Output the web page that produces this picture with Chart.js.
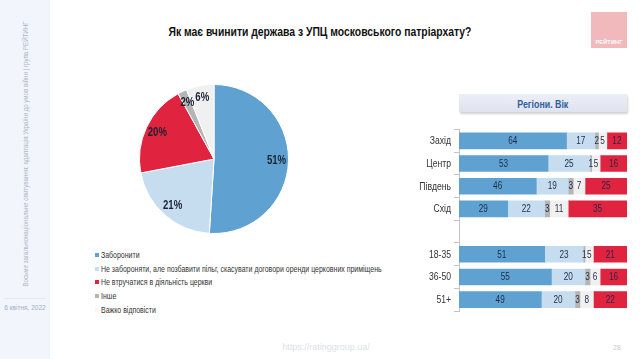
<!DOCTYPE html>
<html>
<head>
<meta charset="utf-8">
<script src="https://cdn.jsdelivr.net/npm/chart.js@4/dist/chart.umd.min.js"></script>
<style>
  html, body { margin:0; padding:0; background:#fff; width:640px; height:359px; overflow:hidden; }
  body { position:relative; font-family:"Liberation Sans",Arial,sans-serif; }
  .abs { position:absolute; }
  .fit { display:inline-block; white-space:nowrap; }
  #sidebar { left:0; top:0; width:50px; height:359px; background:#f2f5fb; }
  #sideWrap { left:25px; top:154px; width:0; height:0; }
  #sideText { position:absolute; left:0; top:0; transform-origin:0 0; font-size:7px; color:#aab5c9; }
  #sideDate { left:0; width:50px; top:304px; text-align:center; font-size:6.5px; color:#9fb0c8; }
  #sideSep { left:4px; width:42px; top:298px; height:1px; background:#e3e8f2; }
  #titleWrap { left:0; width:640px; top:22px; text-align:center; }
  #title { font-weight:bold; font-size:13px; color:#111; transform-origin:50% 50%; }
  #logo { left:591px; top:12px; width:36px; height:36px; background:#f1b9bc; }
  #logoText { left:591px; width:36px; top:39px; text-align:center; font-size:5.5px; font-weight:bold; color:#fff; letter-spacing:0.2px; }
  #pieBox { left:139px; top:84px; width:150px; height:150px; }
  #legend { left:95px; top:249px; font-size:8.5px; color:#333; }
  #legend div { height:13.7px; line-height:13.7px; white-space:nowrap; }
  #legend span.sw { display:inline-block; width:4px; height:4px; margin-right:2px; vertical-align:1px; }
  #legend span.tx { display:inline-block; transform-origin:0 50%; }
  #panel { left:459px; top:94px; width:168px; height:18px; background:linear-gradient(#eceef7,#dfe3ef); box-shadow:1px 2px 2px rgba(0,0,0,0.18); text-align:center; line-height:18px; }
  #panelText { font-weight:bold; font-size:11px; color:#2f5e9d; transform-origin:50% 50%; }
  #barBox { left:400px; top:120px; width:235px; height:200px; }
  #footer { left:0; width:652px; top:342px; text-align:center; font-size:9px; color:#dcdfe9; }
  #page { left:613px; top:344px; font-size:7px; color:#c8ccd6; }
</style>
</head>
<body>
<div id="sidebar" class="abs"></div>
<div id="sideWrap" class="abs"><span id="sideText" class="fit">Восьме загальнонаціональне опитування: адаптація України до умов війни | група РЕЙТИНГ</span></div>
<div id="sideSep" class="abs"></div>
<div id="sideDate" class="abs">6 квітня, 2022</div>
<div id="titleWrap" class="abs"><span id="title" class="fit">Як має вчинити держава з УПЦ московського патріархату?</span></div>
<div id="logo" class="abs"></div>
<div id="logoText" class="abs">РЕЙТИНГ</div>
<div id="pieBox" class="abs"><canvas id="pie"></canvas></div>
<div id="legend" class="abs"></div>
<div id="panel" class="abs"><span id="panelText" class="fit">Регіони. Вік</span></div>
<div id="barBox" class="abs"><canvas id="bar"></canvas></div>
<div id="footer" class="abs">https://ratinggroup.ua/</div>
<div id="page" class="abs">28</div>
<script>
// ---- data ----
const pieLabels = [
  "Заборонити",
  "Не забороняти, але позбавити пільг, скасувати договори оренди церковних приміщень",
  "Не втручатися в діяльність церкви",
  "Інше",
  "Важко відповісти"
];
const pieValues = [51, 21, 20, 2, 6];

const barCategories = ["Захід", "Центр", "Південь", "Схід", "", "18-35", "36-50", "51+"];
const banValues         = [64, 53, 46, 29, null, 51, 55, 49];
const restrictValues    = [17, 25, 19, 22, null, 23, 20, 20];
const otherValues       = [2, 1, 3, 3, null, 1, 3, 3];
const hardValues        = [5, 5, 7, 11, null, 5, 6, 8];
const noInterfereValues = [12, 16, 25, 35, null, 21, 16, 22];

const colors = ["#5fa2d1", "#c6ddf0", "#e0233f", "#b5b5b5", "#f0f0f0"];
const legendSwatch = ["#5fa2d1", "#c6ddf0", "#e0233f", "#b5b5b5", "#f7f7f7"];

const FONT = '"Liberation Sans",Arial,sans-serif';
const NARROW = 0.82;

// condense html text
function condense(el, scale) { el.style.transform = 'scaleX(' + scale + ')'; }
function fitTo(el, target) { const w = el.getBoundingClientRect().width; el.style.transform = 'scaleX(' + (target / w) + ')'; }

// legend
const lg = document.getElementById('legend');
pieLabels.forEach((l, i) => {
  const d = document.createElement('div');
  d.innerHTML = '<span class="sw" style="background:' + legendSwatch[i] + '"></span><span class="tx">' + l + '</span>';
  lg.appendChild(d);
});
lg.querySelectorAll('span.tx').forEach(s => condense(s, NARROW));
fitTo(document.getElementById('title'), 303);
fitTo(document.getElementById('panelText'), 51);
(function () {
  const s = document.getElementById('sideText');
  const w = s.getBoundingClientRect().width;
  const k = 265 / w;
  const h = s.getBoundingClientRect().height;
  s.style.transform = 'rotate(-90deg) scaleX(' + k + ') translate(' + (-w / 2) + 'px,' + (-h / 2) + 'px)';
})();

function drawNarrow(ctx, text, x, y, scale) {
  ctx.save();
  ctx.translate(x, y);
  ctx.scale(scale, 1);
  ctx.fillText(text, 0, 0);
  ctx.restore();
}

// pie labels plugin
const pieLabelPlugin = {
  id: 'pieLabels',
  afterDatasetsDraw(chart) {
    const ctx = chart.ctx;
    const meta = chart.getDatasetMeta(0);
    ctx.save();
    ctx.font = 'bold 12px ' + FONT;
    ctx.fillStyle = '#1b2233';
    ctx.textAlign = 'center';
    ctx.textBaseline = 'middle';
    meta.data.forEach((arc, i) => {
      const p = arc.getProps(['x', 'y', 'startAngle', 'endAngle', 'outerRadius'], true);
      const mid = (p.startAngle + p.endAngle) / 2;
      const r = p.outerRadius * 0.84;
      drawNarrow(ctx, pieValues[i] + '%', p.x + Math.cos(mid) * r, p.y + Math.sin(mid) * r, 0.8);
    });
    ctx.restore();
  }
};

new Chart(document.getElementById('pie'), {
  type: 'pie',
  data: {
    labels: pieLabels,
    datasets: [{ data: pieValues, backgroundColor: colors, borderColor: '#ffffff', borderWidth: 1 }]
  },
  options: {
    responsive: true, maintainAspectRatio: false, animation: false,
    layout: { padding: 0 },
    plugins: { legend: { display: false }, tooltip: { enabled: false } }
  },
  plugins: [pieLabelPlugin]
});

// bar labels + condensed category labels plugin
const barLabelPlugin = {
  id: 'barLabels',
  afterDatasetsDraw(chart) {
    const ctx = chart.ctx;
    const area = chart.chartArea;
    ctx.save();
    ctx.font = '10px ' + FONT;
    ctx.fillStyle = '#1f2b47';
    ctx.textAlign = 'center';
    ctx.textBaseline = 'middle';
    chart.data.datasets.forEach((ds, di) => {
      const meta = chart.getDatasetMeta(di);
      meta.data.forEach((bar, i) => {
        const v = ds.data[i];
        if (v === null || v === undefined) return;
        const p = bar.getProps(['x', 'y', 'base'], true);
        const l = Math.max(Math.min(p.x, p.base), area.left);
        const r = Math.min(Math.max(p.x, p.base), area.right);
        drawNarrow(ctx, String(v), (l + r) / 2, p.y + 0.5, NARROW);
      });
    });
    // category labels
    const ys = chart.scales.y;
    ctx.font = '10.5px ' + FONT;
    ctx.fillStyle = '#333333';
    ctx.textAlign = 'right';
    barCategories.forEach((c, i) => {
      if (!c) return;
      drawNarrow(ctx, c, area.left - 8, ys.getPixelForValue(i) + 0.5, NARROW);
    });
    ctx.restore();
  }
};

const seriesValues = [banValues, restrictValues, otherValues, hardValues, noInterfereValues];
const seriesColors = [colors[0], colors[1], colors[3], colors[4], colors[2]];
const seriesNames = [pieLabels[0], pieLabels[1], pieLabels[3], pieLabels[4], pieLabels[2]];

new Chart(document.getElementById('bar'), {
  type: 'bar',
  data: {
    labels: barCategories,
    datasets: seriesValues.map((vals, i) => ({
      label: seriesNames[i], data: vals, backgroundColor: seriesColors[i],
      borderWidth: 0, barThickness: 16
    }))
  },
  options: {
    indexAxis: 'y',
    responsive: true, maintainAspectRatio: false, animation: false,
    layout: { padding: { top: 9.5, bottom: 8.5, right: 8, left: 0 } },
    plugins: { legend: { display: false }, tooltip: { enabled: false } },
    scales: {
      x: { stacked: true, min: 0, max: 100, display: false },
      y: {
        stacked: true,
        afterFit(scale) { scale.width = 59; },
        grid: { drawOnChartArea: false, tickLength: 5, color: '#c4c4c4', offset: true },
        border: { color: '#c4c4c4', width: 1 },
        ticks: { padding: 3, color: 'rgba(0,0,0,0)', font: { family: FONT, size: 10 } }
      }
    }
  },
  plugins: [barLabelPlugin]
});
</script>
</body>
</html>
